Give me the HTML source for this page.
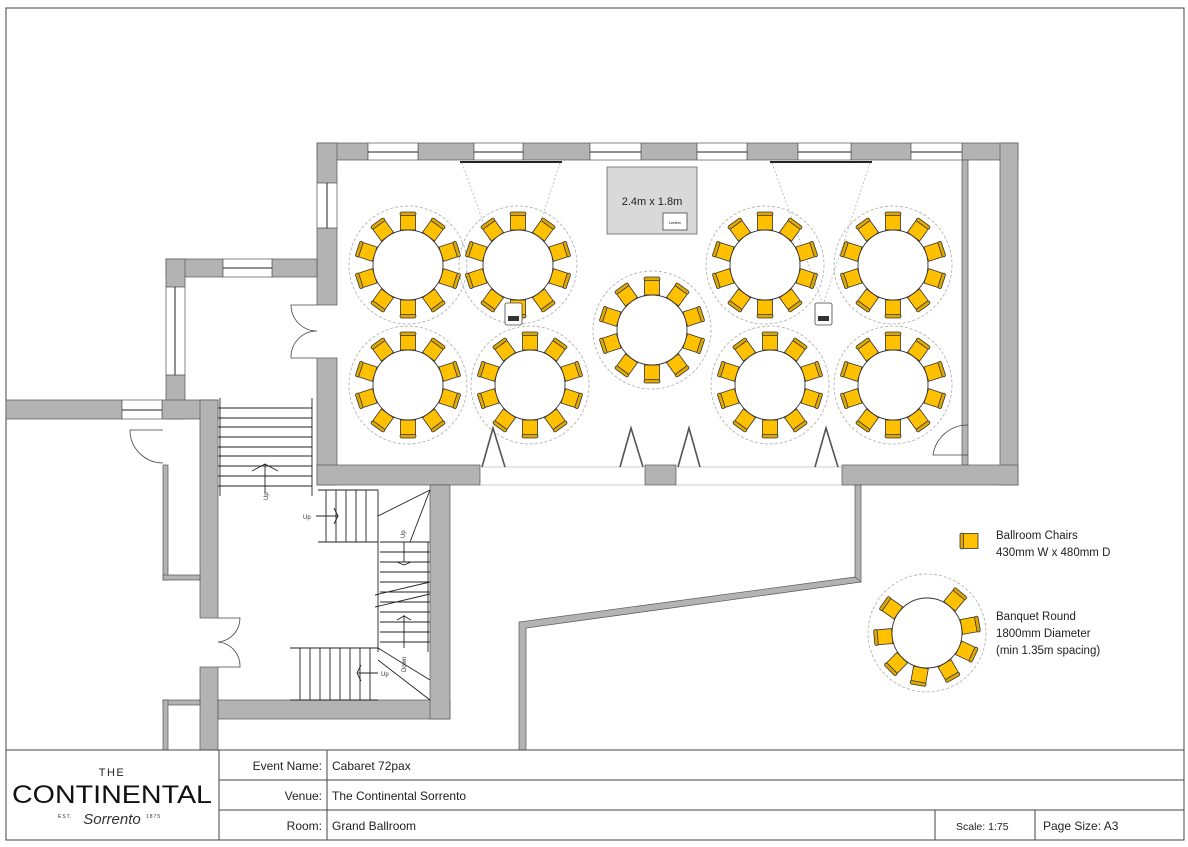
<!DOCTYPE html>
<html><head><meta charset="utf-8"><style>
html,body{margin:0;padding:0;background:#fff;}
svg{display:block;}
text{font-family:"Liberation Sans",sans-serif;}
</style></head><body>
<svg width="1188" height="847" viewBox="0 0 1188 847" xmlns="http://www.w3.org/2000/svg">
<defs>
<g id="ch">
<rect x="-7.5" y="-51" width="15" height="16" fill="#ffc000" stroke="#333" stroke-width="0.8"/>
<rect x="-8" y="-53" width="16" height="3.5" rx="1.7" fill="#e0a800" stroke="#333" stroke-width="0.8"/>
</g>
<g id="tbl">
<circle r="59" fill="none" stroke="#aaa" stroke-width="0.8" stroke-dasharray="3 2"/>
<use href="#ch"/>
<use href="#ch" transform="rotate(36)"/>
<use href="#ch" transform="rotate(72)"/>
<use href="#ch" transform="rotate(108)"/>
<use href="#ch" transform="rotate(144)"/>
<use href="#ch" transform="rotate(180)"/>
<use href="#ch" transform="rotate(216)"/>
<use href="#ch" transform="rotate(252)"/>
<use href="#ch" transform="rotate(288)"/>
<use href="#ch" transform="rotate(324)"/>
<circle r="35" fill="#fff" stroke="#333" stroke-width="0.9"/>
</g>
</defs>

<rect x="6" y="8" width="1178" height="832" fill="none" stroke="#444" stroke-width="1"/>

<g fill="#b3b3b3" stroke="#555" stroke-width="0.7">
<rect x="317" y="143" width="51" height="17"/>
<rect x="418" y="143" width="56" height="17"/>
<rect x="523" y="143" width="67" height="17"/>
<rect x="641" y="143" width="56" height="17"/>
<rect x="747" y="143" width="51" height="17"/>
<rect x="851" y="143" width="60" height="17"/>
<rect x="962" y="143" width="56" height="17"/>
<rect x="1000" y="143" width="18" height="342"/>
<rect x="962" y="160" width="6" height="305"/>
<rect x="317" y="143" width="20" height="40"/>
<rect x="317" y="228" width="20" height="77"/>
<rect x="317" y="358" width="20" height="127"/>
<rect x="317" y="465" width="163" height="20"/>
<rect x="645" y="465" width="31" height="20"/>
<rect x="842" y="465" width="176" height="20"/>
<rect x="166" y="259" width="57" height="18"/>
<rect x="272" y="259" width="45" height="18"/>
<rect x="166" y="259" width="19" height="28"/>
<rect x="166" y="375" width="19" height="44"/>
<rect x="6" y="400" width="116" height="19"/>
<rect x="162" y="400" width="56" height="19"/>
<rect x="200" y="400" width="18" height="218"/>
<rect x="200" y="667" width="18" height="83"/>
<rect x="163" y="465" width="5" height="115"/>
<rect x="163" y="575" width="37" height="5"/>
<rect x="163" y="700" width="37" height="5"/>
<rect x="163" y="700" width="5" height="50"/>
<rect x="218" y="700" width="232" height="19"/>
<rect x="430" y="485" width="20" height="234"/>
<rect x="855" y="485" width="6" height="97"/>
<polygon points="855,577 861,582 526,628 526,750 519,750 519,622"/>
</g>

<g stroke="#555" stroke-width="0.7" fill="#fff">
<rect x="368" y="143" width="50" height="17"/><rect x="474" y="143" width="49" height="17"/>
<rect x="590" y="143" width="51" height="17"/><rect x="697" y="143" width="50" height="17"/>
<rect x="798" y="143" width="53" height="17"/><rect x="911" y="143" width="51" height="17"/>
<rect x="223" y="259" width="49" height="18"/><rect x="122" y="400" width="40" height="19"/>
<rect x="317" y="183" width="20" height="45"/><rect x="166" y="287" width="19" height="88"/>
</g>
<g stroke="#222" stroke-width="1">
<line x1="368" y1="152" x2="418" y2="152"/><line x1="474" y1="152" x2="523" y2="152"/>
<line x1="590" y1="152" x2="641" y2="152"/><line x1="697" y1="152" x2="747" y2="152"/>
<line x1="798" y1="152" x2="851" y2="152"/><line x1="911" y1="152" x2="962" y2="152"/>
<line x1="223" y1="268" x2="272" y2="268"/><line x1="122" y1="410" x2="162" y2="410"/>
<line x1="327" y1="183" x2="327" y2="228"/><line x1="175" y1="287" x2="175" y2="375"/>
</g>
<g stroke="#bbb" stroke-width="0.7" fill="none">
<line x1="480" y1="467" x2="645" y2="467"/><line x1="480" y1="485" x2="645" y2="485"/>
<line x1="676" y1="467" x2="842" y2="467"/><line x1="676" y1="485" x2="842" y2="485"/>
</g>

<g stroke="#222" stroke-width="2"><line x1="460" y1="162" x2="562" y2="162"/><line x1="770" y1="162" x2="872" y2="162"/></g>
<g stroke="#aaa" stroke-width="0.7" stroke-dasharray="2 2" fill="none">
<line x1="462" y1="163" x2="513" y2="305"/><line x1="560" y1="163" x2="513" y2="305"/>
<line x1="772" y1="163" x2="823" y2="305"/><line x1="870" y1="163" x2="823" y2="305"/>
</g>
<rect x="607" y="167" width="90" height="67" fill="#d9d9d9" stroke="#666" stroke-width="0.8"/>
<text x="652" y="205" font-size="11" text-anchor="middle" fill="#222">2.4m x 1.8m</text>
<rect x="663" y="213" width="24" height="17" fill="#fff" stroke="#444" stroke-width="0.8"/>
<text x="675" y="224" font-size="3.5" text-anchor="middle">Lectern</text>

<use href="#tbl" x="408" y="265"/>
<use href="#tbl" x="518" y="265"/>
<use href="#tbl" x="765" y="265"/>
<use href="#tbl" x="893" y="265"/>
<use href="#tbl" x="652" y="330"/>
<use href="#tbl" x="408" y="385"/>
<use href="#tbl" x="530" y="385"/>
<use href="#tbl" x="770" y="385"/>
<use href="#tbl" x="893" y="385"/>

<g fill="#fff" stroke="#444" stroke-width="0.8">
<rect x="505" y="303" width="17" height="22" rx="2"/><rect x="815" y="303" width="17" height="22" rx="2"/>
</g>
<g fill="#333"><rect x="508" y="316" width="11" height="5"/><rect x="818" y="316" width="11" height="5"/></g>

<g fill="none" stroke="#555" stroke-width="1.6">
<polyline points="482,467 493,428 505,467"/>
<polyline points="620,467 631,428 643,467"/>
<polyline points="678,467 689,428 700,467"/>
<polyline points="815,467 826,428 838,467"/>
</g>
<g fill="none" stroke="#444" stroke-width="0.8">
<path d="M968,425 A35,35 0 0 0 933,455 L968,455"/>
<path d="M317,305 L291,305 A26,26 0 0 0 317,331 A26,26 0 0 0 291,358 L317,358"/>
<path d="M163,430 L130,430 A33,33 0 0 0 163,463"/>
<path d="M218,618 L240,618 A24,24 0 0 1 218,642 A24,24 0 0 1 240,667 L218,667"/>
</g>

<g stroke="#222" stroke-width="0.9" fill="none">
<line x1="218" y1="408" x2="312" y2="408"/><line x1="218" y1="418" x2="312" y2="418"/>
<line x1="218" y1="427" x2="312" y2="427"/><line x1="218" y1="437" x2="312" y2="437"/>
<line x1="218" y1="447" x2="312" y2="447"/><line x1="218" y1="456" x2="312" y2="456"/>
<line x1="218" y1="466" x2="312" y2="466"/><line x1="218" y1="476" x2="312" y2="476"/>
<line x1="218" y1="486" x2="312" y2="486"/>
<line x1="220" y1="398" x2="220" y2="496"/><line x1="312" y1="398" x2="312" y2="496"/>
<line x1="265" y1="493" x2="265" y2="464"/><polyline points="252,471 265,464 278,471"/>
<line x1="318" y1="490" x2="378" y2="490"/><line x1="318" y1="542" x2="378" y2="542"/>
<line x1="326" y1="490" x2="326" y2="542"/><line x1="336" y1="490" x2="336" y2="542"/>
<line x1="346" y1="490" x2="346" y2="542"/><line x1="356" y1="490" x2="356" y2="542"/>
<line x1="366" y1="490" x2="366" y2="542"/><line x1="378" y1="490" x2="378" y2="542"/>
<line x1="316" y1="516" x2="338" y2="516"/><polyline points="334,508 338,516 334,524"/>
<line x1="378" y1="516" x2="430" y2="490"/><line x1="430" y1="490" x2="410" y2="542"/>
<line x1="378" y1="542" x2="378" y2="652"/><line x1="428" y1="542" x2="428" y2="652"/>
<line x1="380" y1="542" x2="430" y2="542"/><line x1="380" y1="552" x2="430" y2="552"/>
<line x1="380" y1="562" x2="430" y2="562"/><line x1="380" y1="572" x2="430" y2="572"/>
<line x1="380" y1="582" x2="430" y2="582"/><line x1="380" y1="592" x2="430" y2="592"/>
<line x1="380" y1="602" x2="430" y2="602"/><line x1="380" y1="612" x2="430" y2="612"/>
<line x1="380" y1="622" x2="430" y2="622"/><line x1="380" y1="632" x2="430" y2="632"/>
<line x1="380" y1="642" x2="430" y2="642"/>
<line x1="375" y1="595" x2="430" y2="582"/><line x1="375" y1="607" x2="430" y2="594"/>
<line x1="404" y1="542" x2="404" y2="562"/><polyline points="397,562 404,565 411,562"/>
<line x1="404" y1="615" x2="404" y2="648"/><polyline points="397,620 404,616 411,620"/>
<line x1="290" y1="648" x2="378" y2="648"/><line x1="290" y1="700" x2="378" y2="700"/>
<line x1="300" y1="648" x2="300" y2="700"/><line x1="310" y1="648" x2="310" y2="700"/>
<line x1="320" y1="648" x2="320" y2="700"/><line x1="330" y1="648" x2="330" y2="700"/>
<line x1="340" y1="648" x2="340" y2="700"/><line x1="350" y1="648" x2="350" y2="700"/>
<line x1="360" y1="648" x2="360" y2="700"/><line x1="370" y1="648" x2="370" y2="700"/>
<line x1="378" y1="673" x2="358" y2="673"/><polyline points="361,665 357,673 361,681"/>
<line x1="378" y1="660" x2="430" y2="700"/><line x1="378" y1="648" x2="430" y2="680"/>
</g>
<g font-size="6" fill="#333">
<text x="268" y="500" transform="rotate(-90 268 500)">Up</text>
<text x="303" y="519">Up</text>
<text x="405" y="538" transform="rotate(-90 405 538)">Up</text>
<text x="381" y="676">Up</text>
<text x="406" y="672" transform="rotate(-90 406 672)">Down</text>
</g>

<g transform="translate(970,541) rotate(-90)"><use href="#ch" transform="translate(0,43)"/></g>
<text x="996" y="539" font-size="11.5" fill="#222">Ballroom Chairs</text>
<text x="996" y="556" font-size="11.5" fill="#222">430mm W x 480mm D</text>
<g transform="translate(927,633)">
<circle r="59" fill="none" stroke="#aaa" stroke-width="0.8" stroke-dasharray="3 2"/>
<use href="#ch" transform="rotate(40)"/><use href="#ch" transform="rotate(80)"/>
<use href="#ch" transform="rotate(115)"/><use href="#ch" transform="rotate(150)"/>
<use href="#ch" transform="rotate(190)"/><use href="#ch" transform="rotate(225)"/>
<use href="#ch" transform="rotate(265)"/><use href="#ch" transform="rotate(305)"/>
<circle r="35" fill="#fff" stroke="#333" stroke-width="0.9"/>
</g>
<text x="996" y="620" font-size="11.5" fill="#222">Banquet Round</text>
<text x="996" y="637" font-size="11.5" fill="#222">1800mm Diameter</text>
<text x="996" y="654" font-size="11.5" fill="#222">(min 1.35m spacing)</text>

<rect x="6" y="750" width="1178" height="90" fill="#fff" stroke="#444" stroke-width="1"/>
<g stroke="#444" stroke-width="1">
<line x1="219" y1="750" x2="219" y2="840"/><line x1="327" y1="750" x2="327" y2="840"/>
<line x1="219" y1="780" x2="1184" y2="780"/><line x1="219" y1="810" x2="1184" y2="810"/>
<line x1="935" y1="810" x2="935" y2="840"/><line x1="1035" y1="810" x2="1035" y2="840"/>
</g>
<g font-size="12" fill="#222">
<text x="322" y="770" text-anchor="end">Event Name:</text>
<text x="322" y="800" text-anchor="end">Venue:</text>
<text x="322" y="830" text-anchor="end">Room:</text>
<text x="332" y="770">Cabaret 72pax</text>
<text x="332" y="800">The Continental Sorrento</text>
<text x="332" y="830">Grand Ballroom</text>
<text x="956" y="830" font-size="10.5">Scale:  1:75</text>
<text x="1043" y="830">Page Size: A3</text>
</g>
<text x="112" y="776" font-size="11" text-anchor="middle" letter-spacing="1.5" fill="#222">THE</text>
<text x="12" y="803" font-size="25" textLength="200" lengthAdjust="spacingAndGlyphs" fill="#111">CONTINENTAL</text>
<text x="58" y="818" font-size="5" fill="#333" letter-spacing="1">EST.</text>
<text x="112" y="824" font-size="15" font-style="italic" text-anchor="middle" font-family="Liberation Serif,serif" fill="#333">Sorrento</text>
<text x="146" y="818" font-size="5" fill="#333" letter-spacing="1">1875</text>
</svg>
</body></html>
